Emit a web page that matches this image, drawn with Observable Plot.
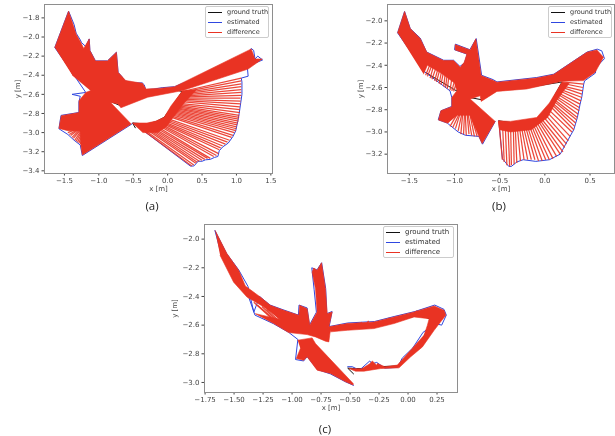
<!DOCTYPE html>
<html><head><meta charset="utf-8">
<script src="https://cdn.jsdelivr.net/npm/d3@7"></script>
<script src="https://cdn.jsdelivr.net/npm/@observablehq/plot@0.6"></script>
<style>
html,body{margin:0;background:#fff}
#page{position:relative;width:615px;height:436px;overflow:hidden;background:#fff;filter:blur(0.35px)}
.panel{position:absolute}
.legend{position:absolute;background:#fff;border:1px solid #ccc;border-radius:2px;box-sizing:border-box;font-family:"DejaVu Sans",sans-serif;color:#333}
.legend div{position:absolute;left:21px;line-height:9px;white-space:nowrap}
.legend i{position:absolute;left:2px;width:14px;height:1.2px}
.cap{position:absolute;font:11.5px "Open Sans",sans-serif;color:#222;transform:translateX(-50%)}
</style></head><body><div id="page"></div>
<script>
const lineRed="#e93323", lineBlue="#2f47e0", lineBlack="#111";
const legendLabels=["ground truth","estimated","difference"];
const captions=["(a)","(b)","(c)"];

// panel (a)
const aTicksX=[-1.5,-1,-0.5,0,0.5,1,1.5], aTicksY=[-1.8,-2,-2.2,-2.4,-2.6,-2.8,-3,-3.2,-3.4];
const aTruthX=[-0.47,-0.51,-0.30,-0.17,-0.05,0.05,0.21,0.1,-0.29,-0.68,-0.83,-1.12,-1.38,-1.60];
const aTruthY=[-2.95,-2.90,-2.91,-2.885,-2.84,-2.74,-2.57,-2.55,-2.62,-2.72,-2.675,-2.55,-2.39,-2.12];
const aEstX=[-0.50,0.33,0.38,0.42,0.44,0.50,0.55,0.62,0.68,0.73,0.75,0.80,0.88,0.95,0.99,1.02,1.04,1.06,1.08,1.08,1.07,1.17,1.16,1.19,1.28,1.38,1.31,1.27,1.25,1.215,1.19,1.10,0.60,0.10,-0.08,-0.20,-0.32,-0.34,-0.37,-0.50,-0.62,-0.67,-0.72,-0.745,-0.875,-1.05,-1.13,-1.14,-1.19,-1.25,-1.27,-1.33,-1.36,-1.44,-1.64,-1.37,-1.19,-1.39,-1.27,-1.29,-1.29,-1.55,-1.58,-1.45,-1.36,-1.27,-1.24,-0.52];
const aEstY=[-2.90,-3.35,-3.35,-3.32,-3.30,-3.30,-3.285,-3.28,-3.26,-3.25,-3.19,-3.15,-3.11,-3.04,-2.98,-2.88,-2.80,-2.70,-2.60,-2.47,-2.43,-2.41,-2.33,-2.29,-2.27,-2.24,-2.20,-2.23,-2.14,-2.12,-2.15,-2.20,-2.37,-2.52,-2.53,-2.545,-2.55,-2.50,-2.48,-2.48,-2.46,-2.41,-2.37,-2.16,-2.25,-2.25,-2.14,-2.02,-2.10,-2.06,-2.03,-1.96,-1.87,-1.73,-2.11,-2.39,-2.58,-2.60,-2.62,-2.68,-2.79,-2.82,-2.96,-3.02,-3.08,-3.13,-3.24,-2.91];
const aDiffTruthX=[0.21,0.20,0.19,0.18,0.17,0.16,0.15,0.14,0.13,0.12,0.11,0.10,0.09,0.08,0.07,0.06,0.05,0.04,0.03,0.02,0.01,0.00,-0.01,-0.02,-0.03,-0.05,-0.07,-0.09,-0.11,-0.13,-0.15,-0.17,-0.19,-0.21,-0.24,-0.27,-0.30,-0.33,-0.36,-0.39,-0.42,-0.46,-0.50,-1.28,-1.27,-1.26,-1.25,-1.24,-1.23,-1.22,-1.21,-1.20,-1.19];
const aDiffTruthY=[-2.57,-2.58,-2.59,-2.60,-2.61,-2.62,-2.63,-2.64,-2.65,-2.66,-2.67,-2.69,-2.70,-2.71,-2.72,-2.73,-2.74,-2.75,-2.76,-2.77,-2.78,-2.79,-2.80,-2.81,-2.82,-2.84,-2.85,-2.86,-2.87,-2.875,-2.88,-2.885,-2.89,-2.895,-2.90,-2.905,-2.91,-2.91,-2.91,-2.91,-2.91,-2.91,-2.90,-2.95,-2.95,-2.95,-2.95,-2.95,-2.95,-2.95,-2.95,-2.95,-2.95];
const aDiffEstX=[1.07,1.07,1.07,1.07,1.07,1.07,1.07,1.06,1.06,1.06,1.05,1.05,1.05,1.04,1.04,1.03,1.03,1.02,1.01,1.00,1.00,0.99,0.97,0.95,0.93,0.90,0.87,0.84,0.80,0.77,0.75,0.74,0.71,0.67,0.62,0.58,0.54,0.50,0.46,0.43,0.41,0.38,0.35,-1.45,-1.43,-1.41,-1.39,-1.37,-1.35,-1.33,-1.31,-1.29,-1.27];
const aDiffEstY=[-2.43,-2.46,-2.49,-2.52,-2.55,-2.58,-2.61,-2.64,-2.67,-2.70,-2.73,-2.76,-2.79,-2.82,-2.84,-2.86,-2.88,-2.90,-2.92,-2.94,-2.96,-2.98,-3.00,-3.03,-3.05,-3.08,-3.10,-3.12,-3.14,-3.16,-3.18,-3.22,-3.24,-3.25,-3.27,-3.27,-3.28,-3.29,-3.30,-3.31,-3.32,-3.34,-3.35,-3.00,-3.02,-3.03,-3.05,-3.06,-3.08,-3.09,-3.10,-3.11,-3.12];
// silhouettes of the overplotted difference lines
const aDenseX=[-1.64,-1.44,-1.37,-1.33,-1.26,-1.22,-1.14,-1.13,-1.05,-0.875,-0.745,-0.72,-0.61,-0.365,-0.315,-0.10,0.10,1.215,1.27,1.375,1.17,0.22,-0.29,-0.68,-0.72,-0.83,-0.53,-1.24,-1.264,-1.27,-1.45,-1.58,-1.546,-1.288,-1.288,-1.19,-1.118,-1.385];
const aDenseY=[-2.11,-1.73,-1.88,-1.97,-2.06,-2.12,-2.02,-2.14,-2.25,-2.25,-2.16,-2.37,-2.455,-2.485,-2.545,-2.535,-2.52,-2.125,-2.23,-2.23,-2.335,-2.56,-2.63,-2.74,-2.70,-2.685,-2.91,-3.235,-3.12,-2.98,-2.98,-2.956,-2.824,-2.79,-2.666,-2.58,-2.56,-2.40];
const aDenseFanX=[0.22,0.05,-0.05,-0.17,-0.30,-0.51,-0.36,-0.15,-0.02,0.12,0.24,0.42];
const aDenseFanY=[-2.56,-2.72,-2.84,-2.88,-2.90,-2.90,-3.00,-3.00,-2.94,-2.80,-2.69,-2.55];

// panel (b)
const bTicksX=[-1.5,-1,-0.5,0,0.5], bTicksY=[-2,-2.2,-2.4,-2.6,-2.8,-3,-3.2];
const bTruthX=[-0.51,-0.38,-0.09,-0.05,0.05,0.19,-0.2,-0.53,-0.70,-0.83,-1.0,-1.33,-1.60];
const bTruthY=[-2.90,-2.915,-2.885,-2.87,-2.76,-2.55,-2.60,-2.625,-2.71,-2.69,-2.62,-2.46,-2.12];
const bEstX=[-0.51,-0.47,-0.40,-0.37,-0.31,-0.24,-0.10,0.05,0.17,0.23,0.32,0.36,0.39,0.41,0.43,0.44,0.56,0.565,0.66,0.63,0.58,0.47,0.10,-0.09,-0.53,-0.57,-0.70,-0.76,-0.83,-0.99,-1.0,-0.86,-0.89,-0.94,-1.01,-1.12,-1.31,-1.38,-1.49,-1.553,-1.63,-1.33,-1.05,-1.03,-1.03,-1.15,-1.18,-1.08,-0.96,-0.88,-0.73,-0.69,-0.55];
const bEstY=[-2.90,-3.24,-3.31,-3.31,-3.27,-3.25,-3.265,-3.25,-3.20,-3.11,-2.98,-2.87,-2.75,-2.68,-2.57,-2.54,-2.47,-2.42,-2.34,-2.27,-2.255,-2.28,-2.48,-2.51,-2.55,-2.53,-2.49,-2.16,-2.26,-2.21,-2.26,-2.30,-2.38,-2.41,-2.355,-2.355,-2.28,-2.155,-2.07,-1.916,-2.108,-2.46,-2.63,-2.69,-2.77,-2.81,-2.89,-2.92,-3.0,-3.03,-3.04,-3.11,-2.905];
const bDiffTruthX=[.19,.18,.17,.16,.15,.14,.13,.12,.11,.10,.09,.08,.07,.06,.05,.03,.01,-.01,-.03,-.05,-.07,-.09,-.11,-.13,-.15,-.17,-.19,-.21,-.23,-.25,-.27,-.29,-.31,-.33,-.35,-.38,-.41,-.44,-.47,-.51,-.98,-.97,-.95,-.94,-.92,-.91,-.89,-.88,-.86,-.85,-.83,-.82,-1.32,-1.30,-1.27,-1.25,-1.22,-1.20,-1.17,-1.15,-1.12,-1.10,-1.08,-1.05,-1.03,-1.01];
const bDiffTruthY=[-2.55,-2.56,-2.58,-2.59,-2.61,-2.62,-2.64,-2.65,-2.67,-2.68,-2.70,-2.71,-2.73,-2.74,-2.76,-2.79,-2.81,-2.83,-2.85,-2.87,-2.875,-2.88,-2.885,-2.89,-2.895,-2.90,-2.90,-2.905,-2.905,-2.91,-2.91,-2.91,-2.91,-2.915,-2.915,-2.915,-2.91,-2.91,-2.905,-2.90,-2.84,-2.84,-2.84,-2.84,-2.84,-2.84,-2.84,-2.84,-2.84,-2.84,-2.84,-2.84,-2.49,-2.50,-2.515,-2.525,-2.54,-2.55,-2.565,-2.575,-2.59,-2.60,-2.61,-2.625,-2.63,-2.635];
const bDiffEstX=[.43,.42,.42,.41,.41,.40,.39,.38,.38,.37,.36,.35,.34,.33,.32,.30,.28,.26,.24,.22,.20,.17,.13,.09,.05,.01,-.03,-.07,-.11,-.15,-.19,-.23,-.27,-.31,-.34,-.37,-.39,-.42,-.45,-.47,-1.08,-1.05,-1.02,-.99,-.96,-.93,-.90,-.87,-.84,-.81,-.78,-.75,-1.27,-1.25,-1.23,-1.20,-1.18,-1.16,-1.14,-1.12,-1.10,-1.08,-1.06,-1.03,-1.0,-0.98];
const bDiffEstY=[-2.57,-2.60,-2.63,-2.66,-2.69,-2.72,-2.75,-2.78,-2.81,-2.84,-2.87,-2.89,-2.92,-2.95,-2.98,-3.00,-3.04,-3.08,-3.11,-3.14,-3.18,-3.20,-3.22,-3.24,-3.25,-3.25,-3.26,-3.26,-3.25,-3.25,-3.25,-3.25,-3.26,-3.28,-3.29,-3.30,-3.31,-3.30,-3.27,-3.25,-2.92,-2.95,-2.96,-2.97,-2.99,-3.02,-3.02,-3.03,-3.02,-3.03,-3.04,-3.04,-2.39,-2.40,-2.40,-2.41,-2.42,-2.43,-2.44,-2.45,-2.46,-2.48,-2.49,-2.52,-2.54,-2.56];
const bDenseX=[-1.63,-1.553,-1.49,-1.38,-1.306,-1.122,-1.01,-0.937,-0.893,-0.863,-0.993,-0.993,-0.827,-0.764,-0.705,-0.568,-0.531,-0.089,0.096,0.465,0.576,0.649,0.557,0.428,0.188,-0.2,-0.531,-0.705,-0.716,-0.827,-0.55,-0.694,-0.734,-0.83,-0.97,-1.08,-1.177,-1.151,-1.03,-1.03,-0.974,-1.0,-1.15,-1.30,-1.343];
const bDenseY=[-2.108,-1.916,-2.07,-2.16,-2.283,-2.358,-2.358,-2.418,-2.373,-2.298,-2.262,-2.214,-2.262,-2.162,-2.493,-2.538,-2.553,-2.514,-2.484,-2.283,-2.262,-2.328,-2.463,-2.538,-2.544,-2.613,-2.635,-2.725,-2.674,-2.704,-2.905,-3.104,-3.035,-2.85,-2.85,-2.92,-2.893,-2.809,-2.773,-2.689,-2.629,-2.56,-2.47,-2.40,-2.478];
const bDenseFanX=[0.19,0.05,-0.09,-0.38,-0.515,-0.50,-0.38,-0.15,0.03,0.13,0.27];
const bDenseFanY=[-2.55,-2.74,-2.87,-2.905,-2.90,-2.98,-3.00,-2.98,-2.87,-2.72,-2.56];

// panel (c)
const cTicksX=[-1.75,-1.5,-1.25,-1,-0.75,-0.5,-0.25,0,0.25], cTicksY=[-2,-2.2,-2.4,-2.6,-2.8,-3];
const cTruthX=[-0.47,-0.52,-0.38,-0.25,-0.09,0.05,0.15,0.2,0.1,-0.12,-0.3,-0.67,-0.87,-1.03,-1.0,-1.2,-1.38,-1.5,-1.62];
const cTruthY=[-2.94,-2.90,-2.905,-2.89,-2.885,-2.79,-2.66,-2.56,-2.53,-2.57,-2.61,-2.63,-2.655,-2.645,-2.55,-2.48,-2.38,-2.25,-2.06];
const cEstX=[-0.52,-0.48,-0.42,-0.33,-0.31,-0.27,-0.2,-0.09,-0.05,0.04,0.13,0.24,0.29,0.33,0.31,0.23,0.06,-0.12,-0.29,-0.52,-0.68,-0.655,-0.70,-0.71,-0.745,-0.785,-0.83,-0.81,-0.79,-0.85,-0.87,-0.94,-0.945,-1.07,-1.19,-1.28,-1.33,-1.38,-1.46,-1.565,-1.665,-1.61,-1.49,-1.38,-1.32,-1.16,-1.03,-0.95,-0.97,-0.90,-0.87,-0.78,-0.67,-0.54,-0.47];
const cEstY=[-2.89,-2.89,-2.915,-2.85,-2.87,-2.86,-2.90,-2.895,-2.83,-2.76,-2.65,-2.59,-2.60,-2.53,-2.49,-2.46,-2.505,-2.54,-2.575,-2.585,-2.61,-2.505,-2.52,-2.345,-2.165,-2.215,-2.20,-2.35,-2.51,-2.60,-2.48,-2.46,-2.53,-2.495,-2.46,-2.40,-2.51,-2.33,-2.215,-2.10,-1.94,-2.11,-2.29,-2.39,-2.53,-2.59,-2.65,-2.70,-2.84,-2.85,-2.82,-2.91,-2.94,-2.995,-3.02];
const cDiffTruthX=[-0.62,-0.56,-0.50,-0.44,-0.38,-0.32,-0.26,-0.20,-0.14,-0.08,-0.02,0.04,-1.18,-1.14,-1.10,-1.06,-1.02];
const cDiffTruthY=[-2.62,-2.62,-2.62,-2.62,-2.62,-2.62,-2.61,-2.60,-2.58,-2.56,-2.54,-2.53,-2.55,-2.57,-2.59,-2.61,-2.63];
const cDiffEstX=[-0.58,-0.52,-0.46,-0.40,-0.34,-0.28,-0.22,-0.16,-0.10,-0.04,0.02,0.08,-1.33,-1.30,-1.26,-1.22,-1.18];
const cDiffEstY=[-2.595,-2.59,-2.59,-2.58,-2.57,-2.58,-2.57,-2.55,-2.54,-2.53,-2.52,-2.50,-2.44,-2.46,-2.47,-2.49,-2.50];
const cDenseWingX=[-1.663,-1.562,-1.46,-1.403,-1.274,-1.187,-1.072,-0.942,-0.934,-0.87,-0.847,-0.784,-0.798,-0.827,-0.813,-0.784,-0.746,-0.712,-0.697,-0.654,-0.683,-0.668,-0.683,-0.712,-0.798,-0.87,-1.029,-1.158,-1.317,-1.10,-1.25,-1.389,-1.504,-1.62];
const cDenseWingY=[-1.94,-2.10,-2.218,-2.327,-2.404,-2.462,-2.497,-2.531,-2.462,-2.485,-2.60,-2.508,-2.346,-2.23,-2.202,-2.218,-2.165,-2.346,-2.52,-2.508,-2.612,-2.624,-2.717,-2.712,-2.682,-2.666,-2.652,-2.589,-2.52,-2.56,-2.47,-2.404,-2.30,-2.114];
const cDenseRingX=[-0.683,-0.524,-0.294,-0.121,0.052,0.225,0.311,0.326,0.28,0.225,0.124,0.023,-0.078,-0.236,-0.38,-0.452,-0.51,-0.40,-0.33,-0.308,-0.27,-0.265,-0.20,-0.092,0.009,0.138,0.167,0.182,0.052,-0.121,-0.294,-0.524,-0.668];
const cDenseRingY=[-2.612,-2.589,-2.578,-2.543,-2.508,-2.466,-2.497,-2.531,-2.578,-2.636,-2.752,-2.821,-2.898,-2.903,-2.921,-2.921,-2.903,-2.905,-2.87,-2.85,-2.88,-2.868,-2.89,-2.879,-2.787,-2.671,-2.601,-2.555,-2.543,-2.589,-2.624,-2.636,-2.647];
const cDenseTailX=[-0.951,-0.827,-0.798,-0.473,-0.473,-0.539,-0.669,-0.784,-0.87,-0.899,-0.963,-0.928];
const cDenseTailY=[-2.705,-2.689,-2.729,-3.007,-3.018,-2.995,-2.937,-2.914,-2.821,-2.845,-2.833,-2.763];

const path=(xs,ys,o)=>Plot.line({length:xs.length},{x:xs,y:ys,...o});
const dense=(xs,ys)=>path(xs,ys,{fill:lineRed,stroke:lineRed,strokeWidth:0.6});
const page=document.getElementById("page");

function panel(p){
  const n=p.diff[0].length;
  const svg=Plot.plot({
    width:p.w,height:p.h,marginLeft:p.ml,marginRight:1,marginTop:4,marginBottom:27,
    style:{background:"transparent",fontFamily:'"DejaVu Sans",sans-serif',fontSize:"7px",color:"#444",overflow:"visible"},
    x:{domain:p.dx},y:{domain:p.dy},
    marks:[
      Plot.axisX({ticks:p.tx,tickFormat:d3.format(p.fx),tickSize:2.5,tickPadding:2.5,label:"x [m]",labelAnchor:"center",labelArrow:false,labelOffset:17,fontSize:7}),
      Plot.axisY({ticks:p.ty,tickFormat:d3.format(".1f"),tickSize:2.5,tickPadding:2.5,label:"y [m]",labelAnchor:"center",labelArrow:false,labelOffset:p.lo,fontSize:7}),
      path(p.truth[0],p.truth[1],{stroke:lineBlack,strokeWidth:1}),
      path(p.est[0],p.est[1],{stroke:lineBlue,strokeWidth:1}),
      Plot.link({length:n},{x1:p.diff[0],y1:p.diff[1],x2:p.diff[2],y2:p.diff[3],stroke:lineRed,strokeWidth:1.25,strokeOpacity:0.9}),
      ...p.dense.map(d=>dense(d[0],d[1])),
      Plot.frame({stroke:"#8e8e8e",strokeWidth:1})
    ]
  });
  const wrap=document.createElement("div");
  wrap.className="panel";wrap.style.left=p.l+"px";wrap.style.top=p.t+"px";
  wrap.appendChild(svg);page.appendChild(wrap);

  const lg=document.createElement("div");
  lg.className="legend";
  Object.assign(lg.style,{left:p.lgx+"px",top:p.lgy+"px",width:p.lgw+"px",height:"32px",fontSize:p.lgf+"px"});
  [lineBlack,lineBlue,lineRed].forEach((c,i)=>{
    const sw=document.createElement("i");sw.style.background=c;sw.style.top=(5+i*10)+"px";lg.appendChild(sw);
    const t=document.createElement("div");t.textContent=legendLabels[i];t.style.top=(1+i*10)+"px";lg.appendChild(t);
  });
  page.appendChild(lg);

  const cap=document.createElement("div");
  cap.className="cap";cap.textContent=p.cap;cap.style.left=p.cx+"px";cap.style.top=p.cy+"px";
  page.appendChild(cap);
}

panel({l:0,t:0,w:273,h:200,ml:44,lo:29,dx:[-1.79,1.524],dy:[-3.428,-1.66],tx:aTicksX,ty:aTicksY,fx:".1f",
  truth:[aTruthX,aTruthY],est:[aEstX,aEstY],diff:[aDiffTruthX,aDiffTruthY,aDiffEstX,aDiffEstY],dense:[[aDenseX,aDenseY],[aDenseFanX,aDenseFanY]],
  lgx:205,lgy:6,lgw:64,lgf:6.5,cap:captions[0],cx:152,cy:198});
panel({l:343,t:0,w:272,h:200,ml:44,lo:29,dx:[-1.742,0.771],dy:[-3.374,-1.853],tx:bTicksX,ty:bTicksY,fx:".1f",
  truth:[bTruthX,bTruthY],est:[bEstX,bEstY],diff:[bDiffTruthX,bDiffTruthY,bDiffEstX,bDiffEstY],dense:[[bDenseX,bDenseY],[bDenseFanX,bDenseFanY]],
  lgx:548,lgy:6,lgw:64,lgf:6.5,cap:captions[1],cx:499,cy:198});
panel({l:160,t:220,w:298,h:199,ml:44,lo:32,dx:[-1.755,0.4265],dy:[-3.07,-1.898],tx:cTicksX,ty:cTicksY,fx:".2f",
  truth:[cTruthX,cTruthY],est:[cEstX,cEstY],diff:[cDiffTruthX,cDiffTruthY,cDiffEstX,cDiffEstY],
  dense:[[cDenseWingX,cDenseWingY],[cDenseRingX,cDenseRingY],[cDenseTailX,cDenseTailY]],
  lgx:383,lgy:226,lgw:71,lgf:7,cap:captions[2],cx:325,cy:421});
</script></body></html>
